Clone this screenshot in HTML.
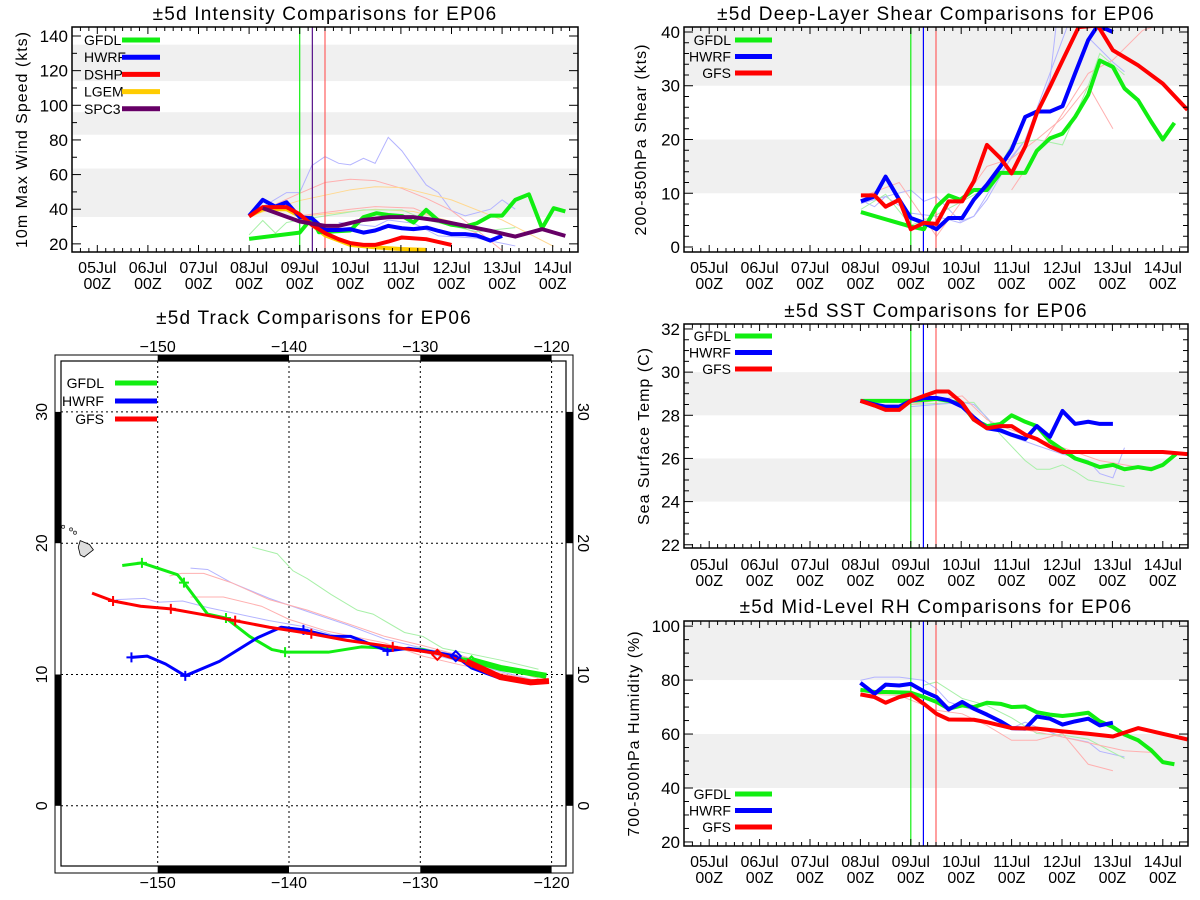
<!DOCTYPE html>
<html><head><meta charset="utf-8">
<style>
html,body{margin:0;padding:0;background:#fff;}
svg{display:block;font-family:"Liberation Sans",sans-serif;}
</style></head>
<body>
<svg id="root" width="1200" height="900" viewBox="0 0 1200 900" xmlns="http://www.w3.org/2000/svg">
<rect width="1200" height="900" fill="#fff"/>
</svg>
<script>
// ===== Intensity chart data (days since 05Jul 00Z) =====
const intGfdlT=[3,4,4.24,4.38,5,5.26,5.52,5.75,6.03,6.25,6.5,6.74,7,7.27,7.5,7.77,8,8.26,8.53,8.79,9.02,9.25];
const intGfdlV=[22.9,26.5,35,26.7,27.7,35.4,37.7,36.7,36,32.3,39.6,33.5,31,30,31.9,36.3,36.3,45.4,48.6,29,40.6,38.7];
const intHwrfT=[3,3.27,3.52,3.74,4,4.24,4.5,4.77,5,5.26,5.49,5.75,6.02,6.25,6.51,6.74,7,7.27,7.5,7.77,8];
const intHwrfV=[36.2,45.4,41.5,44,35.4,34.8,28,28,28.5,26.5,27.7,30.4,29,28.5,29.4,27.5,25.6,25.6,24.8,21.9,24.6];
const intDshpT=[3,3.27,3.74,4,4.24,4.5,4.77,5,5.26,5.49,5.75,6.02,6.5,7];
const intDshpV=[35.8,41.2,41.2,37.1,31,26.2,22.7,20.4,19.4,19.4,21.3,23.7,22.7,19.4];
const intLgemT=[3,3.27,3.74,4,4.24,4.5,5,5.5,6,6.5];
const intLgemV=[36,40,40,36,31,25,19.4,18,17,16.5];
const intSpc3T=[3.27,4,4.5,4.77,5.26,5.75,6.25,6.74,7.27,7.77,8.26,8.79,9.25];
const intSpc3V=[40.6,32.9,30.4,30.4,33.8,35.4,35.4,33.5,30.4,27.5,24.2,28.5,24.6];
const intThinBlue1T=[3,3.74,4,4.24,4.5,4.77,5,5.26,5.49,5.75,6.02,6.5,6.74,7,7.27,7.77,8,8.26];
const intThinBlue1V=[36.7,49.6,49.6,65.2,70.4,66.5,65.6,69.4,66.5,81.5,73.7,54,49.6,39.2,36.2,40,45.4,40];
const intThinBlue2T=[4.77,5.49,5.75,6.25,6.74,7.5,8.26];
const intThinBlue2V=[32.3,30,33.8,31.9,24.6,23.3,18.8];
const intThinRed1T=[3,4,4.5,5,5.49,6.02,6.5,7,7.5,8];
const intThinRed1V=[36,49.2,55.4,57.3,56.5,52,46.3,39.2,28,16.2];
const intThinRed2T=[4,5,5.49,6.25,6.74,7.5];
const intThinRed2V=[36.2,40,41.5,40.6,34.8,26.2];
const intThinOrg1T=[3,4,5,5.49,6.02,7,8,9.02];
const intThinOrg1V=[36,45,51.2,53,52.5,45.4,33.8,18.5];
const intThinOrg2T=[4,5,5.49,6.25,7,7.5];
const intThinOrg2V=[35.8,38.7,40,38.7,32.9,28];
const intThinGrnT=[3,3.27,3.52,3.74,4,5.26,6.02,6.5,7.5,8.26];
const intThinGrnV=[25.2,33.5,26.2,32.3,33.8,39.6,39.6,33.8,27,29.4];

// ===== Shear chart data =====
const shGfdlT=[3.01,4,4.26,4.51,4.75,4.98,5.25,5.51,5.78,6,6.27,6.5,6.76,7.01,7.26,7.52,7.75,8.01,8.24,8.51,8.77,9,9.23];
const shGfdlV=[6.5,3.8,3.3,7.5,9.6,8.8,10.6,10.6,13.8,13.8,13.8,17.9,20.2,21.1,24.2,28.3,34.7,33.5,29.5,27.3,23.3,20,23.1];
const shHwrfT=[3.01,3.28,3.5,3.77,4,4.26,4.51,4.75,5.02,5.25,5.51,5.78,6,6.27,6.5,6.76,7.01,7.26,7.52,7.71,8.01];
const shHwrfV=[8.5,9.4,13.1,8.8,5.4,4.5,3.3,5.4,5.4,8.8,11.6,15,18.1,24.2,25.2,25.2,26.2,32.3,38.5,41.2,40];
const shGfsT=[3.01,3.28,3.5,3.77,4,4.26,4.51,4.75,5.02,5.25,5.51,5.78,6,6.27,6.5,6.76,7.01,7.33,7.71,8.01,8.51,9,9.49];
const shGfsV=[9.6,9.6,7.5,8.8,3.3,4.5,4.3,8.5,8.5,12.2,19,16.5,13.7,18.7,24.9,29.8,34.7,40.9,41.2,36.6,33.8,30.4,25.5];
const shThinBlue1T=[3.01,3.28,3.5,4,4.26,4.51,4.98,5.25,5.51,6,6.27,6.76,6.88];
const shThinBlue1V=[8.7,7.5,9.4,10.6,8.5,9.4,4.8,5.7,8.8,16.8,19.9,31,40.9];
const shThinBlue2T=[3.01,3.5,4,4.51,4.98,5.25,5.78,6.27,7.1];
const shThinBlue2V=[8.1,9.4,6.3,5.7,4.5,5.7,13.8,19.9,40.9];
const shThinBlue3T=[7.52,8.01,8.24];
const shThinBlue3V=[39,34.4,32.6];
const shThinRed1T=[3.01,3.77,4.51,5.51,6,6.5,7.01,7.52,8.01];
const shThinRed1V=[9.3,12,2,15,16.5,20,24,30,22];
const shThinRed2T=[6,7.01,7.52,8.01,8.6,8.8];
const shThinRed2V=[10.6,24.8,32.3,34.8,40.3,40.9];
const shThinGrnT=[3.01,3.5,4,4.51,5.02,5.51,6,6.5,7.01,7.52,7.75,8.24];
const shThinGrnV=[7,9.8,4,6,8.5,11,19,20,19,30,36,32];

// ===== SST chart data =====
const sstGfdlT=[3,4,4.51,4.75,5.02,5.25,5.51,5.78,6,6.27,6.5,6.76,7.01,7.26,7.52,7.75,8.01,8.24,8.51,8.77,9,9.26];
const sstGfdlV=[28.67,28.67,28.76,28.67,28.5,27.8,27.5,27.6,28,27.7,27.5,26.8,26.4,26,25.8,25.6,25.7,25.5,25.6,25.5,25.7,26.2];
const sstHwrfT=[3,3.28,3.5,3.77,4,4.26,4.51,4.75,5.02,5.25,5.51,5.78,6,6.27,6.5,6.76,7.01,7.26,7.52,7.75,8.01];
const sstHwrfV=[28.67,28.5,28.4,28.4,28.67,28.8,28.8,28.7,28.4,27.9,27.4,27.3,27.1,26.9,27.5,27,28.2,27.6,27.7,27.6,27.6];
const sstGfsT=[3,3.28,3.5,3.77,4,4.26,4.51,4.75,5.02,5.25,5.51,5.78,6,6.27,6.5,6.76,7.01,7.75,9,9.49];
const sstGfsV=[28.67,28.45,28.25,28.25,28.67,28.9,29.1,29.1,28.56,27.8,27.4,27.5,27.5,27.1,26.9,26.55,26.3,26.3,26.3,26.2];
const sstThinGrnT=[4,5.02,5.25,5.78,6.27,6.5,6.76,7.01,7.26,7.52,8.24];
const sstThinGrnV=[28.5,28.6,28.6,27.1,25.9,25.5,25.5,25.7,25.4,25,24.7];
const sstThinBlueT=[4,5.02,5.25,5.51,5.78,6.5,7.01,7.52,7.75,8.01,8.24];
const sstThinBlueV=[28.4,28.6,28.5,27.9,27.2,26.6,26.2,25.9,25.3,25.1,26.5];
const sstThinRedT=[4,5.02,5.51,5.78,6.5,7.01,7.75,8.51,9];
const sstThinRedV=[28.5,28.9,27.8,27.5,26.9,26.5,25.9,25.6,25.6];

// ===== RH chart data =====
const rhGfdlT=[3,3.28,3.5,4,4.26,4.51,4.75,5.02,5.25,5.51,5.78,6,6.27,6.5,6.76,7.01,7.26,7.52,7.75,8.01,8.24,8.51,8.77,9,9.23];
const rhGfdlV=[76.4,75.6,75.6,75.3,73.7,71.9,69.4,70.6,70,71.6,71.2,70,70.2,68.1,67.2,66.7,67.2,67.9,64.7,62.6,59.8,57.7,54,49.6,48.8];
const rhHwrfT=[3,3.28,3.5,3.77,4,4.26,4.51,4.75,5.02,5.25,5.51,5.78,6,6.27,6.5,6.76,7.01,7.26,7.52,7.75,8.01];
const rhHwrfV=[79,74.9,78.3,78,78.6,75.8,73.7,69.1,71.9,69.4,67.2,64.7,62.2,62,66.5,65.7,63.5,64.7,65.7,63.2,64.2];
const rhGfsT=[3,3.28,3.5,3.77,4,4.26,4.51,4.75,5.25,5.51,6,6.5,7.01,7.52,8.01,8.51,9,9.49];
const rhGfsV=[74.7,73.7,71.6,73.7,74.7,71.2,67.5,65.4,65.3,64.4,62.2,62,61,60.1,59.1,62.2,60.1,58];
const rhThinBlueT=[3,3.28,3.77,4.26,4.51,4.75,5.25,6,6.27,6.5,7.01,7.52,7.75,8.24];
const rhThinBlueV=[79.9,81.1,81.1,79.9,76.8,71.9,68.8,62.2,64.4,62.6,58.9,57,53.6,51.5];
const rhThinGrnT=[4.26,4.51,5.02,5.51,6,6.5,7.01,7.52,8.24];
const rhThinGrnV=[78.1,79.3,73.2,70.6,66,60.2,59.6,58.1,50.9];
const rhThinRed1T=[3,3.77,4.51,5.02,5.51,6,6.5,7.01,7.52,8.01];
const rhThinRed1V=[74.9,74.3,68.8,67.5,63.2,57.7,57.7,60.2,48.8,46.4];
const rhThinRed2T=[5.51,7.01,8.24,8.77];
const rhThinRed2V=[64.4,58.9,53.8,53.2];

// ===== Track data (lon, lat) =====
const trkGfdlLon=[-152.7,-151.2,-148.5,-148,-146.2,-144.8,-143,-141.3,-140.3,-137,-134.5,-132.4,-129.8,-127.4,-126.1,-123.9,-120.4];
const trkGfdlLat=[18.3,18.5,17.6,17.0,14.6,14.3,12.9,11.9,11.7,11.7,12.1,12.0,11.9,11.3,11.1,10.5,9.9];
const trkHwrfLon=[-152,-150.8,-149.4,-147.9,-145.3,-142.4,-140.6,-138.9,-136.8,-135.3,-132.5,-130.9,-128.9,-127.3,-126.1,-123.9,-121.6,-120.2];
const trkHwrfLat=[11.3,11.4,10.8,9.9,11.0,12.8,13.6,13.4,12.9,12.9,11.8,12.0,11.7,11.4,10.5,9.7,9.4,9.5];
const trkGfsLon=[-155,-153.4,-151.3,-149,-146.2,-144.1,-141.5,-138.3,-135.6,-132.1,-128.7,-126,-123.9,-121.6,-120.2];
const trkGfsLat=[16.2,15.6,15.2,15.0,14.5,14.1,13.6,13.1,12.6,12.1,11.6,10.8,9.8,9.4,9.5];
const trkThinGrnLon=[-142.8,-140.9,-139.7,-138.6,-136.8,-134.8,-133.6,-131.2,-129.8,-128.3,-123.9,-121];
const trkThinGrnLat=[19.7,19.2,17.9,17.3,16.1,14.9,14.6,13.2,12.9,12.0,11.1,10.4];
const trkThinBlue1Lon=[-147.5,-146.2,-144.4,-141.5,-138.6,-135.6,-132.7,-129.8,-126.8,-121];
const trkThinBlue1Lat=[18.1,18.0,17.0,15.8,14.8,13.8,12.7,12.0,11.4,9.8];
const trkThinBlue2Lon=[-153.2,-151,-150,-148.1,-146.2,-141.5,-138.6,-135.6,-129.8,-121];
const trkThinBlue2Lat=[15.7,15.8,15.5,15.6,15.1,14.1,13.6,12.7,11.7,9.5];
const trkThinRed1Lon=[-149.1,-148.2,-146.5,-144.4,-141.5,-138.6,-135.6,-132.7,-129.8,-126.8,-121];
const trkThinRed1Lat=[17.5,17.7,17.7,17.0,15.7,14.9,13.9,12.9,12.2,11.4,9.7];
const trkThinRed2Lon=[-147.5,-145,-142.1,-140,-137.1,-132.7,-129.8,-126.8,-121];
const trkThinRed2Lat=[15.9,15.9,15.2,14.2,13.3,12.4,11.4,10.7,9.5];
const trkGfdlMarkIdx=[1,3,5,8];
const trkHwrfMarkIdx=[0,3,7,10];
const trkGfsMarkIdx=[1,3,5,7,9];

const NS="http://www.w3.org/2000/svg";
const root=document.getElementById('root');
function mk(tag,attrs,parent){const e=document.createElementNS(NS,tag);for(const k in attrs)e.setAttribute(k,attrs[k]);(parent||root).appendChild(e);return e;}
function txt(s,x,y,size,anchor,parent,rot,ls){const e=mk('text',{x:x,y:y,'font-size':size,'text-anchor':anchor||'middle',fill:'#000'},parent);if(ls)e.setAttribute('letter-spacing',ls);if(rot!==undefined)e.setAttribute('transform','rotate('+rot+' '+x+' '+y+')');e.textContent=s;return e;}

const dayLabels=['05Jul','06Jul','07Jul','08Jul','09Jul','10Jul','11Jul','12Jul','13Jul','14Jul'];

function panel(c){
  const g=mk('g',{});
  
  
  const sx=d=>c.x0+(d+0.5)/10*(c.x1-c.x0);
  const sy=v=>c.y1-(v-c.ymin)/(c.ymax-c.ymin)*(c.y1-c.y0);
  const cid='clip-'+c.name;
  const cp=mk('clipPath',{id:cid},g);mk('rect',{x:c.x0,y:c.y0,width:c.x1-c.x0,height:c.y1-c.y0},cp);
  c.bands.forEach(b=>{
    const top=Math.min(sy(b[1]),c.y1),bot=Math.min(sy(b[0]),c.y1);
    const r=mk('rect',{x:c.x0,y:Math.max(top,c.y0),width:c.x1-c.x0,height:bot-Math.max(top,c.y0),fill:'#f0f0f0'},g);
    
    
  });
  const t=txt(c.title,(c.x0+c.x1)/2,c.titleY,19,'middle',g,undefined,1.2);
  
  
  const yt=txt(c.ytitle,c.ytx,(c.y0+c.y1)/2,16,'middle',g,-90,1);
  
  
  const lg=mk('g',{'clip-path':'url(#'+cid+')'},g);
  c.thin.forEach(s=>{
    const p=mk('polyline',{points:s.t.map((d,i)=>sx(d)+','+sy(s.v[i])).join(' '),fill:'none',stroke:s.col,'stroke-width':1},lg);
    
    
  });
  c.vlines.forEach(v=>{
    const l=mk('line',{x1:sx(v[0]),x2:sx(v[0]),y1:c.y0,y2:c.y1,stroke:v[1],'stroke-width':1.2},lg);
    
    
  });
  c.series.forEach(s=>{
    const p=mk('polyline',{points:s.t.map((d,i)=>sx(d)+','+sy(s.v[i])).join(' '),fill:'none',stroke:s.col,'stroke-width':4,'stroke-linejoin':'round'},lg);
    
    
  });
  mk('rect',{x:c.x0,y:c.y0,width:c.x1-c.x0,height:c.y1-c.y0,fill:'none',stroke:'#000','stroke-width':1.5},g);
  for(let d=-0.5;d<=9.5001;d+=1/6){
    const x=sx(d);const maj=Math.abs(d-Math.round(d))<0.01;const L=maj?7:4;
    mk('line',{x1:x,x2:x,y1:c.y1,y2:c.y1-L,stroke:'#000','stroke-width':1},g);
    mk('line',{x1:x,x2:x,y1:c.y0,y2:c.y0+L,stroke:'#000','stroke-width':1},g);
  }
  dayLabels.forEach((s,i)=>{
    const a=txt(s,sx(i),c.labY,16,'middle',g);
    
    
    const b=txt('00Z',sx(i),c.labY+16,16,'middle',g);
    
    
  });
  for(let v=Math.ceil(c.ymin/c.minor)*c.minor;v<=c.ymax;v+=c.minor){
    const y=sy(v);const maj=Math.abs(v/c.major-Math.round(v/c.major))<0.01;const L=maj?9:5;
    mk('line',{x1:c.x0,x2:c.x0+L,y1:y,y2:y,stroke:'#000','stroke-width':1},g);
    mk('line',{x1:c.x1,x2:c.x1-L,y1:y,y2:y,stroke:'#000','stroke-width':1},g);
    if(maj){const a=txt(String(Math.round(v)),c.x0-4,y+6,17,'end',g);
      
      }
  }
  c.series.forEach((s,i)=>{
    if(s.noLeg)return;
    const y=c.legY+i*c.legDy;
    const lt=txt(s.lab,c.legTx,y+5,14,'end',g);
    
    
    const ll=mk('line',{x1:c.legL0,x2:c.legL1,y1:y,y2:y,stroke:s.col,'stroke-width':5},g);
    
    
  });
}

const G='#11ee11',B='#0000ff',R='#ff0000',LB='#b4b4ff',LR='#ffb0b0',LG='#a8f0a8',LO='#ffd890';

panel({name:'intensity-chart',x0:72,x1:578,y0:27,y1:252,ymin:15.3,ymax:145.2,major:20,minor:10,
  bands:[[35.5,63.5],[83,96],[114,135]],title:'±5d Intensity Comparisons for EP06',titleY:20,
  ytitle:'10m Max Wind Speed (kts)',ytx:27,labY:273,
  thin:[{t:intThinBlue1T,v:intThinBlue1V,col:LB},{t:intThinBlue2T,v:intThinBlue2V,col:LB},{t:intThinRed1T,v:intThinRed1V,col:LR},{t:intThinRed2T,v:intThinRed2V,col:LR},{t:intThinOrg1T,v:intThinOrg1V,col:LO},{t:intThinOrg2T,v:intThinOrg2V,col:LO},{t:intThinGrnT,v:intThinGrnV,col:LG}],
  vlines:[[4,G],[4.25,'#551188'],[4.5,'#ff6060']],
  series:[{t:intLgemT,v:intLgemV,col:'#ffcc00',lab:'LGEM',noLeg:true},{t:intGfdlT,v:intGfdlV,col:G,lab:'GFDL',noLeg:true},{t:intHwrfT,v:intHwrfV,col:B,lab:'HWRF',noLeg:true},{t:intDshpT,v:intDshpV,col:R,lab:'DSHP',noLeg:true},{t:intSpc3T,v:intSpc3V,col:'#660066',lab:'SPC3',noLeg:true}],
  legY:40,legDy:17,legTx:120,legL0:122,legL1:160});
(function(){const labs=['GFDL','HWRF','DSHP','LGEM','SPC3'];const cols=[G,B,R,'#ffcc00','#660066'];
labs.forEach((s,i)=>{const y=40+i*17.2;
 const lt=txt(s,84,y+5,14,'start');
 
 
 const ll=mk('line',{x1:122,x2:160,y1:y,y2:y,stroke:cols[i],'stroke-width':5});
 
 });})();

panel({name:'shear-chart',x0:684,x1:1188,y0:27,y1:252,ymin:-0.93,ymax:40.93,major:10,minor:2,
  bands:[[10,20],[30,41]],title:'±5d Deep-Layer Shear Comparisons for EP06',titleY:20,
  ytitle:'200-850hPa Shear (kts)',ytx:646,labY:273,
  thin:[{t:shThinBlue1T,v:shThinBlue1V,col:LB},{t:shThinBlue2T,v:shThinBlue2V,col:LB},{t:shThinBlue3T,v:shThinBlue3V,col:LB},{t:shThinRed1T,v:shThinRed1V,col:LR},{t:shThinRed2T,v:shThinRed2V,col:LR},{t:shThinGrnT,v:shThinGrnV,col:LG}],
  vlines:[[4,G],[4.25,B],[4.5,'#ff6060']],
  series:[{t:shGfdlT,v:shGfdlV,col:G,lab:'GFDL'},{t:shHwrfT,v:shHwrfV,col:B,lab:'HWRF'},{t:shGfsT,v:shGfsV,col:R,lab:'GFS'}],
  legY:40,legDy:16.5,legTx:731,legL0:735,legL1:772});

panel({name:'sst-chart',x0:684,x1:1188,y0:324,y1:548,ymin:21.85,ymax:32.23,major:2,minor:0.5,
  bands:[[24,26],[28,30]],title:'±5d SST Comparisons for EP06',titleY:317,
  ytitle:'Sea Surface Temp (C)',ytx:649,labY:570,
  thin:[{t:sstThinGrnT,v:sstThinGrnV,col:LG},{t:sstThinBlueT,v:sstThinBlueV,col:LB},{t:sstThinRedT,v:sstThinRedV,col:LR}],
  vlines:[[4,G],[4.25,B],[4.5,'#ff6060']],
  series:[{t:sstGfdlT,v:sstGfdlV,col:G,lab:'GFDL'},{t:sstHwrfT,v:sstHwrfV,col:B,lab:'HWRF'},{t:sstGfsT,v:sstGfsV,col:R,lab:'GFS'}],
  legY:336,legDy:16.5,legTx:731,legL0:735,legL1:772});

panel({name:'rh-chart',x0:684,x1:1188,y0:621,y1:846,ymin:18.5,ymax:101.9,major:20,minor:5,
  bands:[[40,60],[80,102]],title:'±5d Mid-Level RH Comparisons for EP06',titleY:613,
  ytitle:'700-500hPa Humidity (%)',ytx:639,labY:867,
  thin:[{t:rhThinBlueT,v:rhThinBlueV,col:LB},{t:rhThinGrnT,v:rhThinGrnV,col:LG},{t:rhThinRed1T,v:rhThinRed1V,col:LR},{t:rhThinRed2T,v:rhThinRed2V,col:LR}],
  vlines:[[4,G],[4.25,B],[4.5,'#ff6060']],
  series:[{t:rhGfdlT,v:rhGfdlV,col:G,lab:'GFDL'},{t:rhHwrfT,v:rhHwrfV,col:B,lab:'HWRF'},{t:rhGfsT,v:rhGfsV,col:R,lab:'GFS'}],
  legY:794,legDy:16.5,legTx:731,legL0:735,legL1:772});

(function(){
  const g=mk('g',{});
  
  
  const px=lon=>157.7+(lon+150)*13.13;
  const py=lat=>805.8-lat*13.13;
  const x0=61,x1=566,y0=361,y1=866;
  const t=txt('±5d Track Comparisons for EP06',314,324,19,'middle',g,undefined,1.2);
  
  
  mk('rect',{x:55,y:355,width:518,height:518,fill:'none',stroke:'#000','stroke-width':1},g);
  mk('rect',{x:x0,y:y0,width:x1-x0,height:y1-y0,fill:'none',stroke:'#000','stroke-width':1.2},g);
  [[-150,-140],[-130,-120]].forEach(s=>{
    mk('rect',{x:px(s[0]),y:355,width:px(s[1])-px(s[0]),height:6,fill:'#000'},g);
    mk('rect',{x:px(s[0]),y:866,width:px(s[1])-px(s[0]),height:7,fill:'#000'},g);
  });
  [[20,30],[0,10]].forEach(s=>{
    mk('rect',{x:55,y:py(s[1]),width:6,height:py(s[0])-py(s[1]),fill:'#000'},g);
    mk('rect',{x:566,y:py(s[1]),width:7,height:py(s[0])-py(s[1]),fill:'#000'},g);
  });
  [-150,-140,-130,-120].forEach(l=>{
    mk('line',{x1:px(l),x2:px(l),y1:y0,y2:y1,stroke:'#000','stroke-width':1,'stroke-dasharray':'2,3'},g);
    const a=txt(String(l).replace('-','\u2212'),px(l),352,16,'middle',g);
    
    
    const b=txt(String(l).replace('-','\u2212'),px(l),888,16,'middle',g);
    
    
  });
  [0,10,20,30].forEach(l=>{
    mk('line',{x1:x0,x2:x1,y1:py(l),y2:py(l),stroke:'#000','stroke-width':1,'stroke-dasharray':'2,3'},g);
    const a=txt(String(l),47,py(l),16,'middle',g,-90);
    
    
    const b=txt(String(l),578,py(l),16,'middle',g,90);
    
    
  });
  const hw=mk('polygon',{points:[[-155.9,20.2],[-155.2,19.9],[-154.9,19.5],[-155.6,18.95],[-155.9,19.1],[-156.05,19.7]].map(p=>px(p[0])+','+py(p[1])).join(' '),fill:'#ddd',stroke:'#000','stroke-width':0.8},g);
  
  
  [[-157.2,21.25],[-156.6,21.05],[-156.3,20.8]].forEach(p=>{
    const e=mk('circle',{cx:px(p[0]),cy:py(p[1]),r:1.6,fill:'#ddd',stroke:'#000','stroke-width':0.6},g);
    
    
  });
  const thin=[[trkThinGrnLon,trkThinGrnLat,LG],[trkThinBlue1Lon,trkThinBlue1Lat,LB],[trkThinBlue2Lon,trkThinBlue2Lat,LB],[trkThinRed1Lon,trkThinRed1Lat,LR],[trkThinRed2Lon,trkThinRed2Lat,LR]];
  thin.forEach(s=>{
    const p=mk('polyline',{points:s[0].map((l,i)=>px(l)+','+py(s[1][i])).join(' '),fill:'none',stroke:s[2],'stroke-width':1},g);
    
    
  });
  const main=[[trkGfdlLon,trkGfdlLat,G,'gfdl',trkGfdlMarkIdx],[trkHwrfLon,trkHwrfLat,B,'hwrf',trkHwrfMarkIdx],[trkGfsLon,trkGfsLat,R,'gfs',trkGfsMarkIdx]];
  main.forEach(s=>{
    const p=mk('polyline',{points:s[0].map((l,i)=>px(l)+','+py(s[1][i])).join(' '),fill:'none',stroke:s[2],'stroke-width':3,'stroke-linejoin':'round'},g);
    
    
    s[4].forEach(i=>{
      const x=px(s[0][i]),y=py(s[1][i]);
      const m=mk('path',{d:'M'+(x-5)+' '+y+'H'+(x+5)+'M'+x+' '+(y-5)+'V'+(y+5),stroke:s[2],'stroke-width':2},g);
      
      
    });
  });
  [[-128.7,11.5,R],[-127.3,11.4,B],[-126.1,11.0,G]].forEach(d=>{
    const x=px(d[0]),y=py(d[1]);
    const m=mk('polygon',{points:x+','+(y-5)+' '+(x+5)+','+y+' '+x+','+(y+5)+' '+(x-5)+','+y,fill:'none',stroke:d[2],'stroke-width':2},g);
    
    
  });
  const e1=mk('polyline',{points:[[-126.1,11.1],[-123.9,10.5],[-120.4,9.9]].map(p=>px(p[0])+','+py(p[1])).join(' '),fill:'none',stroke:G,'stroke-width':6},g);
  
  
  const e2=mk('polyline',{points:[[-126.5,11.0],[-123.9,9.8],[-121.6,9.4],[-120.2,9.5]].map(p=>px(p[0])+','+py(p[1])).join(' '),fill:'none',stroke:R,'stroke-width':6},g);
  
  
  [['GFDL',G],['HWRF',B],['GFS',R]].forEach((s,i)=>{
    const y=383+i*18;
    const lt=txt(s[0],104,y+5,14,'end',g);
    
    
    const ll=mk('line',{x1:115,x2:157,y1:y,y2:y,stroke:s[1],'stroke-width':5},g);
    
    
  });
})();
</script>
</body></html>
